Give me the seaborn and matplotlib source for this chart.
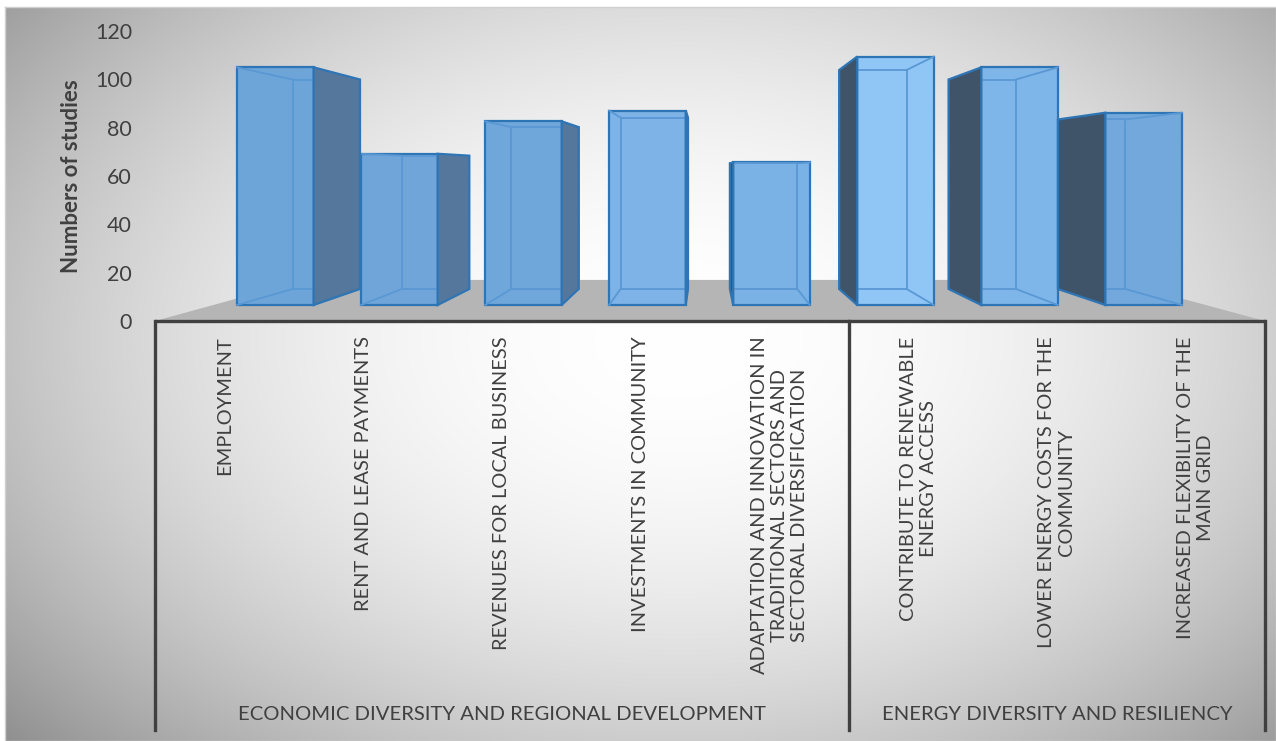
import numpy as np
import matplotlib
matplotlib.use("Agg")
import matplotlib.pyplot as plt
import matplotlib.transforms as mtransforms
import seaborn as sns

# data
categories = [
    "EMPLOYMENT",
    "RENT AND LEASE PAYMENTS",
    "REVENUES FOR LOCAL BUSINESS",
    "INVESTMENTS IN COMMUNITY",
    "ADAPTATION AND INNOVATION IN\nTRADITIONAL SECTORS AND\nSECTORAL DIVERSIFICATION",
    "CONTRIBUTE TO RENEWABLE\nENERGY ACCESS",
    "LOWER ENERGY COSTS FOR THE\nCOMMUNITY",
    "INCREASED FLEXIBILITY OF THE\nMAIN GRID",
]
studies = [110, 70, 85, 90, 66, 115, 110, 89]
groups = ["ECONOMIC DIVERSITY AND REGIONAL DEVELOPMENT", "ENERGY DIVERSITY AND RESILIENCY"]
group_sizes = [5, 3]
yticks = [0, 20, 40, 60, 80, 100, 120]

# look
face_colors = ["#6ea5d9", "#6fa5d9", "#70a7db", "#7db3e6", "#7ab2e6", "#8fc6f5", "#7fb6e9", "#72a8db"]
edge_col = "#2e75b6"
inner_col = "#5a98d4"
side_right_col = "#55779b"
side_left_col = "#3f5469"
text_col = "#404040"

# fake 3d: vanishing point (data units) and depth scales
VP_X, VP_Y = 3.464, 62.5
S_FRONT, S_BACK, S_FLOOR = 0.894, 0.788, 0.728
BAR_W = 0.617
BOTTOM = -169.2


def proj(x, y, s):
    return VP_X + s * (x - VP_X), VP_Y + s * (y - VP_Y)


plt.rcParams["font.family"] = ["Lato", "DejaVu Sans"]

W, H = 1276, 741
fig = plt.figure(figsize=(W / 100, H / 100), dpi=100)

# radial-ish grey background of the chart area
bg = fig.add_axes([0, 0, 1, 1])
yy, xx = np.mgrid[0:H, 0:W]
d = np.hypot((xx - 680) / (W * 0.55), (yy - 340) / (H * 0.62))
val = 1 - 0.26 * np.clip(d, 0, 1.4) ** 2.0
img = np.dstack([val, val, val])
img[:7, :, :] = 1
img[:, :5, :] = 1
bg.imshow(img, extent=[0, W, H, 0], aspect="auto", interpolation="bilinear")
bg.plot([5, W, W, 5, 5], [7, 7, H, H, 7], color="#d0d0d0", lw=1)
bg.set_xlim(0, W)
bg.set_ylim(H, 0)
bg.axis("off")

ax = fig.add_axes([155 / W, (H - 321) / H, 1110 / W, 290 / H])
ax.set_facecolor("none")

n = len(categories)

# floor
floor = [proj(-0.5, 0, 1), proj(n - 0.5, 0, 1), proj(n - 0.5, 0, S_FLOOR), proj(-0.5, 0, S_FLOOR)]
ax.fill([p[0] for p in floor], [p[1] for p in floor], color="#b5b5b5", zorder=1, lw=0)

# front faces through seaborn, pushed back into the scene with an affine map
front_tf = (mtransforms.Affine2D().translate(-VP_X, -VP_Y).scale(S_FRONT)
            .translate(VP_X, VP_Y) + ax.transData)
sns.barplot(x=categories, y=studies, hue=categories, palette=face_colors, legend=False,
            saturation=1, width=BAR_W, errorbar=None, edgecolor=edge_col, linewidth=1.6,
            transform=front_tf, zorder=3, ax=ax)

# hidden edges (seen through) and the visible side faces
for i, v in enumerate(studies):
    xl, xr = i - BAR_W / 2, i + BAR_W / 2
    if xr < VP_X:
        xe, xo, sc = xr, xl, side_right_col
    else:
        xe, xo, sc = xl, xr, side_left_col
    back = [proj(xl, 0, S_BACK), proj(xl, v, S_BACK), proj(xr, v, S_BACK), proj(xr, 0, S_BACK), proj(xl, 0, S_BACK)]
    ax.plot([p[0] for p in back], [p[1] for p in back], color=inner_col, lw=1.3, zorder=3.5)
    for yv in (0, v):
        a, b = proj(xo, yv, S_FRONT), proj(xo, yv, S_BACK)
        ax.plot([a[0], b[0]], [a[1], b[1]], color=inner_col, lw=1.3, zorder=3.5)
    side = [proj(xe, 0, S_FRONT), proj(xe, v, S_FRONT), proj(xe, v, S_BACK), proj(xe, 0, S_BACK)]
    ax.fill([p[0] for p in side], [p[1] for p in side], facecolor=sc, edgecolor=edge_col,
            lw=1.6, zorder=3.7)

# category table below the floor
ax.plot([-0.5, n - 0.5], [0, 0], color=text_col, lw=2.4, zorder=5, clip_on=False,
        solid_capstyle="butt")
edges = np.concatenate([[0], np.cumsum(group_sizes)]) - 0.5
for e in edges:
    ax.plot([e, e], [0, BOTTOM], color=text_col, lw=2.4, zorder=5, clip_on=False)
for g, a, b in zip(groups, edges[:-1], edges[1:]):
    ax.text((a + b) / 2, -163, g, ha="center", va="center", fontsize=14.6, color=text_col,
            clip_on=False)

ax.set_xlim(-0.5, n - 0.5)
ax.set_ylim(0, 120)
ax.set_yticks(yticks)
ax.set_xticks(range(n))
ax.set_xticklabels(categories, rotation=90, va="top", ha="center", multialignment="center")
ax.tick_params(axis="x", length=0, pad=11, labelsize=14.4, labelcolor=text_col)
ax.tick_params(axis="y", length=0, pad=16.5, labelsize=15.5, labelcolor=text_col)
ax.set_xlabel("")
ax.set_ylabel("Numbers of studies", fontsize=16, fontweight="bold", color=text_col)
ax.yaxis.set_label_coords(-0.066, 0.5)
for sp in ax.spines.values():
    sp.set_visible(False)
ax.grid(False)

fig.savefig("out.png", dpi=100)
